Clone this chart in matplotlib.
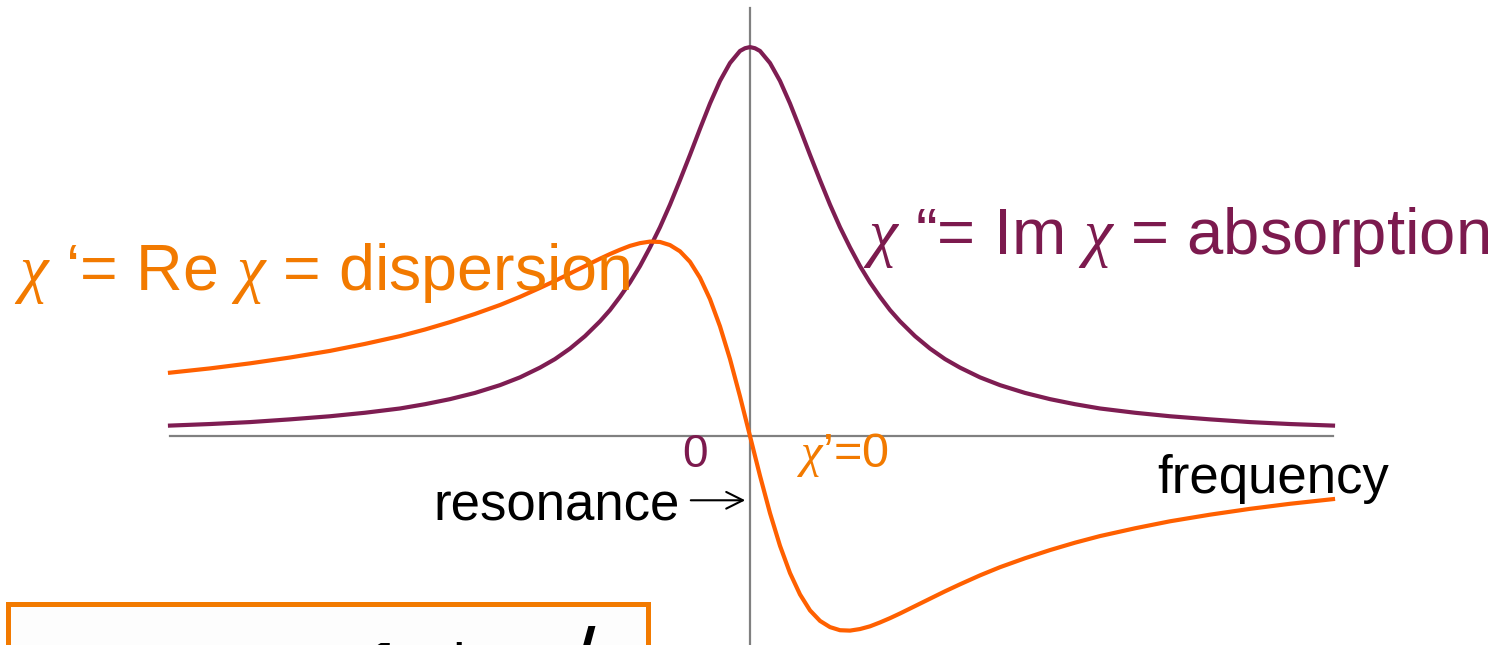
"""Susceptibility near a resonance: absorption and dispersion lineshapes."""
import matplotlib
matplotlib.use('Agg')
import matplotlib.pyplot as plt
from matplotlib.patches import Rectangle

plt.rcParams['font.family'] = ['Liberation Sans', 'DejaVu Sans']
plt.rcParams['mathtext.fontset'] = 'custom'
plt.rcParams['mathtext.rm'] = 'Liberation Sans'
plt.rcParams['mathtext.it'] = 'Liberation Serif:italic'

# detuning from resonance (arbitrary units)
freq = [-5.80, -5.40, -5.00, -4.60, -4.20, -3.85, -3.50, -3.25, -3.00, -2.75,
        -2.50, -2.30, -2.10, -1.95, -1.80, -1.65, -1.50, -1.40, -1.30, -1.20,
        -1.10, -1.00, -0.90, -0.80, -0.70, -0.60, -0.50, -0.40, -0.30, -0.20,
        -0.10, -0.05, 0.00, 0.05, 0.10, 0.20, 0.30, 0.40, 0.50, 0.60,
        0.70, 0.80, 0.90, 1.00, 1.10, 1.20, 1.30, 1.40, 1.50, 1.65,
        1.80, 1.95, 2.10, 2.30, 2.50, 2.75, 3.00, 3.25, 3.50, 3.85,
        4.20, 4.60, 5.00, 5.40, 5.83]

# chi'' (absorption), normalised to the peak
chi_im = [0.027, 0.031, 0.036, 0.043, 0.051, 0.060, 0.071, 0.082, 0.095, 0.111,
          0.131, 0.151, 0.176, 0.198, 0.225, 0.257, 0.295, 0.324, 0.358, 0.395,
          0.437, 0.485, 0.537, 0.595, 0.658, 0.723, 0.790, 0.855, 0.913, 0.959,
          0.990, 0.997, 1.000, 0.997, 0.990, 0.959, 0.913, 0.855, 0.790, 0.723,
          0.658, 0.595, 0.537, 0.485, 0.437, 0.395, 0.358, 0.324, 0.295, 0.257,
          0.225, 0.198, 0.176, 0.151, 0.131, 0.111, 0.095, 0.082, 0.071, 0.060,
          0.051, 0.043, 0.036, 0.031, 0.027]

# chi' (dispersion), same scale
chi_re = [0.163, 0.174, 0.187, 0.202, 0.219, 0.237, 0.257, 0.274, 0.293, 0.314,
          0.337, 0.358, 0.381, 0.399, 0.418, 0.437, 0.456, 0.468, 0.479, 0.489,
          0.496, 0.500, 0.499, 0.491, 0.475, 0.448, 0.407, 0.352, 0.282, 0.198,
          0.102, 0.051, 0.000, -0.051, -0.102, -0.198, -0.282, -0.352, -0.407, -0.448,
          -0.475, -0.491, -0.499, -0.500, -0.496, -0.489, -0.479, -0.468, -0.456, -0.437,
          -0.418, -0.399, -0.381, -0.358, -0.337, -0.314, -0.293, -0.274, -0.257, -0.237,
          -0.219, -0.202, -0.187, -0.174, -0.162]

ORANGE_TEXT = '#F27A00'
ORANGE_LINE = '#FF6000'
PURPLE_TEXT = '#7C1A4E'
PURPLE_LINE = '#7E1D52'
AXIS_GREY = '#808080'


def make_plot(filename='out.png'):
    fig = plt.figure(figsize=(14.98, 6.45), dpi=100)
    ax = fig.add_axes([0, 0, 1, 1])
    ax.set_xlim(-7.50, 7.48)
    ax.set_ylim(-0.537, 1.121)
    ax.axis('off')

    # axes through the resonance
    ax.plot([freq[0], freq[-1]], [0, 0], color=AXIS_GREY, lw=1.6, zorder=1)
    ax.plot([0, 0], [-0.60, 1.10], color=AXIS_GREY, lw=1.6, zorder=1)

    ax.plot(freq, chi_im, color=PURPLE_LINE, lw=3.0, zorder=2,
            solid_joinstyle='round')
    ax.plot(freq, chi_re, color=ORANGE_LINE, lw=3.0, zorder=3,
            solid_joinstyle='round')

    ax.text(-7.36, 0.375, r"$\chi$ ‘= Re $\chi$ = dispersion",
            color=ORANGE_TEXT, fontsize=46.5, ha='left', va='baseline')
    ax.text(1.13, 0.468, r"$\chi$ “= Im $\chi$ = absorption",
            color=PURPLE_TEXT, fontsize=47, ha='left', va='baseline')

    ax.text(-0.545, -0.080, '0', color=PURPLE_TEXT, fontsize=33,
            ha='center', va='baseline')
    ax.text(0.47, -0.080, r"$\chi$’=0", color=ORANGE_TEXT, fontsize=35,
            ha='left', va='baseline')
    ax.text(4.07, -0.147, 'frequency', color='black', fontsize=38,
            ha='left', va='baseline')
    ax.text(-0.70, -0.217, 'resonance', color='black', fontsize=38,
            ha='right', va='baseline')
    ax.annotate('', xy=(-0.02, -0.165), xytext=(-0.62, -0.165),
                arrowprops=dict(arrowstyle='->', color='black', lw=1.5,
                                mutation_scale=30))

    # boxed formula at the bottom, cut by the lower edge
    box = Rectangle((7.5 / 1498, -0.1), 640 / 1498, 0.1643,
                    transform=fig.transFigure, facecolor='#FDFDFD',
                    edgecolor=ORANGE_TEXT, lw=3.6, clip_on=False, zorder=0.5)
    ax.add_patch(box)
    ax.text(-3.86, -0.652, '1', color='black', fontsize=50,
            fontweight='bold', ha='left', va='baseline', zorder=4)
    ax.text(-2.91, -0.632, '+', color='black', fontsize=50,
            ha='center', va='baseline', zorder=4)
    ax.text(-1.80, -0.660, '/', color='black', fontsize=66,
            ha='left', va='baseline', zorder=4)

    fig.savefig(filename, dpi=100)
    plt.close(fig)


if __name__ == '__main__':
    make_plot()
